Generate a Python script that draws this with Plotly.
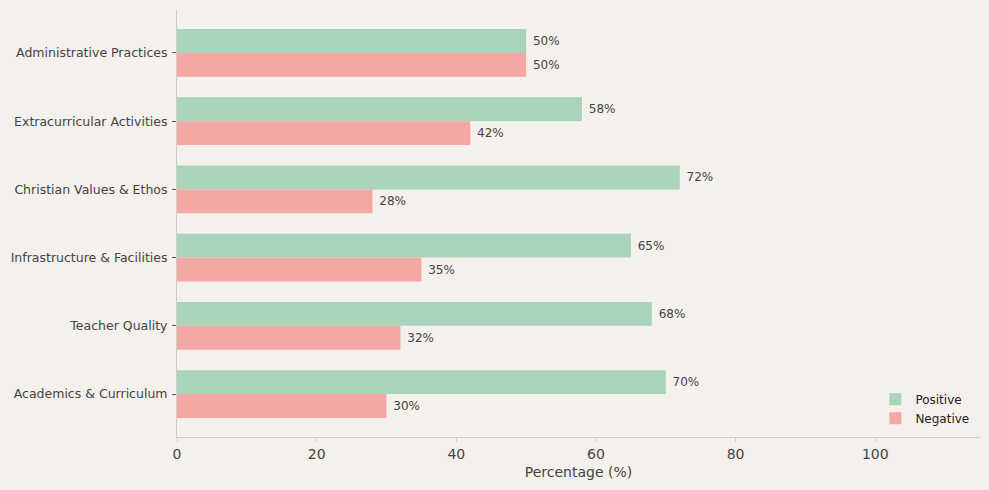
import plotly.graph_objects as go

categories = ["Academics & Curriculum", "Teacher Quality", "Infrastructure & Facilities",
              "Christian Values & Ethos", "Extracurricular Activities", "Administrative Practices"]
positive = [70, 68, 65, 72, 58, 50]
negative = [30, 32, 35, 28, 42, 50]
x_ticks = [0, 20, 40, 60, 80, 100]

pos = list(range(len(categories)))
bg = "#f4f0ec"
txt = "#444444"

fig = go.Figure()
fig.add_trace(go.Bar(
    y=pos, x=positive, orientation="h", name="Positive",
    marker=dict(color="#a8d5ba", line=dict(width=0)),
    width=0.35, offset=0,
    text=[f" {v}%" for v in positive], textposition="outside",
    textfont=dict(size=12, color=txt), cliponaxis=False,
))
fig.add_trace(go.Bar(
    y=pos, x=negative, orientation="h", name="Negative",
    marker=dict(color="#f5a7a4", line=dict(width=0)),
    width=0.35, offset=-0.35,
    text=[f" {v}%" for v in negative], textposition="outside",
    textfont=dict(size=12, color=txt), cliponaxis=False,
))

fig.update_layout(
    width=989, height=490,
    paper_bgcolor=bg, plot_bgcolor=bg,
    margin=dict(l=177, r=9, t=10, b=53),
    font=dict(family="DejaVu Sans", color=txt),
    barmode="overlay",
    showlegend=True,
    legend=dict(x=0.993, y=0.01, xanchor="right", yanchor="bottom",
                bgcolor="rgba(0,0,0,0)", font=dict(size=12, color="#222222"),
                traceorder="normal", itemwidth=30),
    xaxis=dict(range=[0, 115], tickvals=x_ticks, showgrid=False, zeroline=False,
               showline=True, linecolor="#cccccc", linewidth=1,
               ticks="outside", ticklen=4, tickcolor="#cccccc",
               tickfont=dict(size=14, color=txt),
               title=dict(text="Percentage (%)", font=dict(size=14, color=txt), standoff=6)),
    yaxis=dict(range=[-0.63, 5.63], tickvals=pos, ticktext=categories, showgrid=False,
               zeroline=False, showline=True, linecolor="#cccccc", linewidth=1,
               ticks="outside", ticklen=4, tickcolor="#555555", ticklabelstandoff=2,
               tickfont=dict(size=12.5, color=txt)),
)

fig.write_html("out.html", config={"displayModeBar": False},
               post_script="document.body.style.margin='0';document.body.style.background='%s';" % bg)
